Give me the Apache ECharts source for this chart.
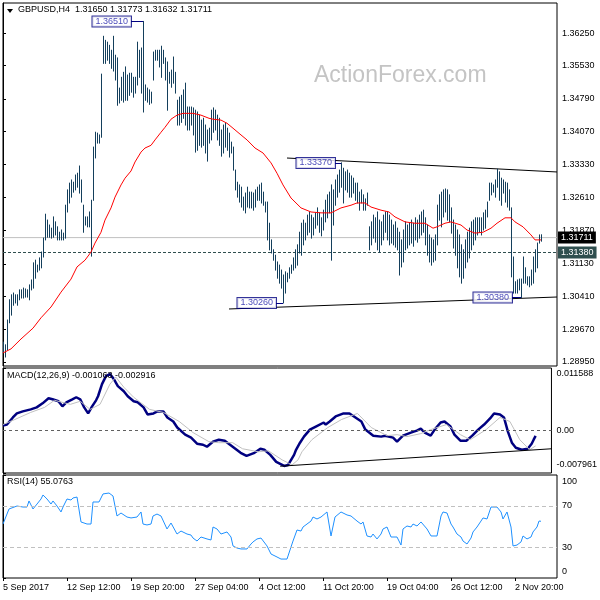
<!DOCTYPE html>
<html>
<head>
<meta charset="utf-8">
<script src="https://cdn.jsdelivr.net/npm/echarts@6/dist/echarts.min.js"></script>
<style>
html, body { margin: 0; padding: 0; background: #fff; }
#chart { width: 600px; height: 600px; }
</style>
</head>
<body>
<div id="chart"></div>
<script>
// GBPUSD H4, bar index 0 = 5 Sep 2017, 2 px per bar
const highs = [
  1.2939,1.2933,1.2988,1.3033,1.3044,1.3048,1.3044,1.3044,1.3055,1.3055,
  1.3059,1.3057,1.3055,1.3066,1.3077,1.3115,1.3121,1.3110,1.3126,1.3139,
  1.3170,1.3223,1.3210,1.3199,1.3192,1.3217,1.3206,1.3195,1.3183,1.3188,
  1.3181,1.3243,1.3277,1.3292,1.3299,1.3294,1.3310,1.3314,1.3330,1.3299,
  1.3243,1.3217,1.3217,1.3228,1.3254,1.3372,1.3405,1.3403,1.3399,1.3534,
  1.3618,1.3609,1.3605,1.3598,1.3587,1.3618,1.3576,1.3570,1.3503,1.3527,
  1.3538,1.3550,1.3532,1.3536,1.3536,1.3527,1.3527,1.3605,1.3587,1.3592,
  1.3651,1.3510,1.3503,1.3499,1.3494,1.3583,1.3587,1.3587,1.3587,1.3596,
  1.3587,1.3570,1.3561,1.3538,1.3543,1.3572,1.3538,1.3476,1.3483,1.3487,
  1.3499,1.3514,1.3461,1.3461,1.3461,1.3459,1.3454,1.3450,1.3443,1.3432,
  1.3436,1.3421,1.3410,1.3414,1.3454,1.3459,1.3454,1.3443,1.3436,1.3410,
  1.3421,1.3425,1.3414,1.3403,1.3383,1.3372,1.3321,1.3294,1.3288,1.3283,
  1.3261,1.3270,1.3283,1.3272,1.3272,1.3270,1.3277,1.3283,1.3288,1.3292,
  1.3272,1.3250,1.3250,1.3203,1.3166,1.3144,1.3132,1.3117,1.3110,1.3099,
  1.3088,1.3095,1.3092,1.3104,1.3110,1.3126,1.3144,1.3155,1.3183,1.3203,
  1.3210,1.3203,1.3221,1.3228,1.3221,1.3215,1.3226,1.3237,1.3226,1.3215,
  1.3232,1.3254,1.3266,1.3272,1.3288,1.3277,1.3299,1.3310,1.3321,1.3337,
  1.3325,1.3317,1.3321,1.3314,1.3308,1.3303,1.3292,1.3292,1.3272,1.3277,
  1.3266,1.3257,1.3270,1.3195,1.3206,1.3221,1.3215,1.3228,1.3210,1.3206,
  1.3221,1.3228,1.3228,1.3221,1.3210,1.3199,1.3206,1.3192,1.3183,1.3166,
  1.3188,1.3206,1.3199,1.3203,1.3210,1.3203,1.3215,1.3210,1.3221,1.3228,
  1.3232,1.3215,1.3199,1.3177,1.3170,1.3166,1.3177,1.3243,1.3266,1.3272,
  1.3277,1.3279,1.3277,1.3266,1.3237,1.3210,1.3199,1.3188,1.3177,1.3155,
  1.3144,1.3166,1.3183,1.3192,1.3206,1.3210,1.3215,1.3215,1.3215,1.3215,
  1.3226,1.3232,1.3250,1.3292,1.3292,1.3288,1.3299,1.3323,1.3317,1.3303,
  1.3299,1.3294,1.3292,1.3277,1.3237,1.3128,1.3073,1.3077,1.3079,1.3079,
  1.3128,1.3104,1.3084,1.3084,1.3099,1.3128,1.3144,1.3159,1.3177,1.31773
];
const lows = [
  1.2917,1.2906,1.2922,1.2982,1.2999,1.3021,1.3026,1.3021,1.3033,1.3037,
  1.3037,1.3039,1.3039,1.3033,1.3055,1.3059,1.3081,1.3095,1.3099,1.3104,
  1.3128,1.3166,1.3172,1.3172,1.3170,1.3172,1.3177,1.3166,1.3166,1.3166,
  1.3166,1.3170,1.3228,1.3248,1.3261,1.3272,1.3277,1.3283,1.3270,1.3250,
  1.3183,1.3199,1.3195,1.3195,1.3130,1.3254,1.3348,1.3381,1.3381,1.3394,
  1.3558,1.3558,1.3565,1.3558,1.3547,1.3541,1.3521,1.3465,1.3470,1.3476,
  1.3472,1.3476,1.3476,1.3487,1.3494,1.3483,1.3492,1.3510,1.3527,1.3492,
  1.3450,1.3476,1.3472,1.3467,1.3470,1.3521,1.3565,1.3565,1.3550,1.3527,
  1.3558,1.3521,1.3454,1.3514,1.3505,1.3514,1.3492,1.3421,1.3421,1.3427,
  1.3436,1.3421,1.3410,1.3410,1.3421,1.3399,1.3361,1.3365,1.3376,1.3372,
  1.3376,1.3359,1.3341,1.3381,1.3388,1.3405,1.3410,1.3388,1.3376,1.3352,
  1.3359,1.3372,1.3365,1.3350,1.3359,1.3321,1.3277,1.3261,1.3250,1.3239,
  1.3232,1.3226,1.3239,1.3237,1.3237,1.3232,1.3239,1.3254,1.3254,1.3248,
  1.3243,1.3228,1.3166,1.3144,1.3137,1.3121,1.3099,1.3081,1.3070,1.3059,
  1.3026,1.3048,1.3073,1.3081,1.3092,1.3099,1.3104,1.3110,1.3137,1.3132,
  1.3155,1.3166,1.3177,1.3183,1.3170,1.3177,1.3192,1.3199,1.3183,1.3175,
  1.3188,1.3206,1.3215,1.3226,1.3121,1.3199,1.3243,1.3261,1.3272,1.3283,
  1.3248,1.3277,1.3272,1.3261,1.3261,1.3270,1.3254,1.3248,1.3232,1.3248,
  1.3232,1.3232,1.3243,1.3144,1.3155,1.3170,1.3161,1.3144,1.3139,1.3155,
  1.3166,1.3183,1.3166,1.3155,1.3159,1.3155,1.3150,1.3144,1.3088,1.3106,
  1.3117,1.3144,1.3148,1.3155,1.3159,1.3152,1.3166,1.3161,1.3170,1.3177,
  1.3183,1.3155,1.3132,1.3117,1.3110,1.3117,1.3121,1.3155,1.3210,1.3195,
  1.3217,1.3228,1.3210,1.3206,1.3181,1.3148,1.3132,1.3104,1.3084,1.3070,
  1.3081,1.3104,1.3117,1.3126,1.3144,1.3155,1.3166,1.3177,1.3183,1.3177,
  1.3188,1.3192,1.3217,1.3254,1.3266,1.3272,1.3261,1.3283,1.3254,1.3243,
  1.3270,1.3250,1.3239,1.3232,1.3084,1.3048,1.3048,1.3048,1.3055,1.3038,
  1.3070,1.3070,1.3066,1.3062,1.3066,1.3070,1.3095,1.3104,1.3159,1.31632
];
const lastBar = [1.31650, 1.31773, 1.31632, 1.31711]; // O H L C
const levelLine = 1.31380;

// moving average [bar, value]
const maLine = [
  [0,1.2915],[4,1.2924],[9,1.2946],[15,1.2970],[19,1.2993],[24,1.3017],[29,1.3050],[34,1.3079],
  [37,1.3106],[41,1.3121],[44,1.3139],[46,1.3159],[49,1.3183],[51,1.3210],[54,1.3237],[56,1.3261],
  [59,1.3288],[61,1.3303],[64,1.3319],[66,1.3339],[69,1.3361],[71,1.3370],[74,1.3376],[76,1.3388],
  [79,1.3405],[81,1.3416],[84,1.3434],[87,1.3443],[90,1.3447],[95,1.3447],[99,1.3443],[103,1.3436],
  [105,1.3434],[109,1.3432],[112,1.3425],[115,1.3414],[119,1.3399],[122,1.3388],[126,1.3370],[130,1.3359],
  [134,1.3337],[137,1.3314],[140,1.3288],[144,1.3259],[149,1.3237],[154,1.3228],[159,1.3226],[164,1.3226],
  [169,1.3237],[174,1.3243],[177,1.3248],[181,1.3248],[184,1.3239],[189,1.3232],[193,1.3228],[196,1.3217],
  [201,1.3206],[206,1.3203],[211,1.3203],[215,1.3192],[217,1.3195],[221,1.3203],[224,1.3206],[229,1.3199],
  [232,1.3188],[236,1.3181],[240,1.3183],[244,1.3192],[247,1.3203],[251,1.3215],[254,1.3215],[256,1.3206],
  [260,1.3195],[264,1.3177],[266,1.3166],[269,1.3166]
];

const macdLine = [
  [0,0.00087],[2,0.00106],[5,0.00238],[7,0.00313],[10,0.00351],[14,0.00388],[17,0.00426],[20,0.00501],
  [23,0.00595],[25,0.00576],[28,0.00539],[30,0.00445],[32,0.00520],[35,0.00576],[37,0.00614],[39,0.00576],
  [41,0.00426],[43,0.00313],[45,0.00445],[47,0.00557],[48,0.00633],[50,0.00858],[52,0.01008],[54,0.01046],
  [56,0.00952],[58,0.00821],[61,0.00727],[63,0.00633],[66,0.00539],[68,0.00520],[71,0.00426],[73,0.00294],
  [76,0.00313],[78,0.00351],[81,0.00351],[83,0.00238],[86,0.00163],[88,0.00050],[92,-0.00082],[95,-0.00138],
  [98,-0.00251],[101,-0.00270],[103,-0.00307],[106,-0.00213],[109,-0.00176],[112,-0.00195],[116,-0.00307],[120,-0.00420],
  [123,-0.00477],[127,-0.00420],[130,-0.00345],[132,-0.00364],[135,-0.00458],[138,-0.00589],[142,-0.00665],[144,-0.00646],
  [147,-0.00458],[148,-0.00364],[150,-0.00232],[152,-0.00119],[155,0.00012],[158,0.00069],[162,0.00144],[163,0.00106],
  [165,0.00163],[168,0.00257],[172,0.00313],[175,0.00313],[178,0.00238],[181,0.00163],[183,0.00012],[187,-0.00101],
  [191,-0.00119],[193,-0.00101],[197,-0.00138],[199,-0.00213],[202,-0.00101],[206,-0.00044],[209,-0.00007],[211,0.00031],
  [213,-0.00044],[216,-0.00101],[218,0.00012],[221,0.00144],[223,0.00163],[226,0.00069],[228,-0.00082],[231,-0.00195],
  [234,-0.00195],[237,-0.00101],[240,0.00012],[243,0.00106],[246,0.00219],[248,0.00313],[251,0.00294],[253,0.00238],
  [255,-0.00025],[257,-0.00232],[259,-0.00326],[262,-0.00364],[265,-0.00345],[267,-0.00251],[268,-0.00176],[269,-0.001063]
];
const signalLine = [
  [0,0.00106],[6,0.00200],[14,0.00332],[21,0.00426],[26,0.00557],[34,0.00482],[39,0.00539],[44,0.00388],
  [49,0.00482],[54,0.00858],[57,0.00990],[61,0.00802],[66,0.00614],[74,0.00388],[81,0.00332],[89,0.00163],
  [96,-0.00044],[104,-0.00213],[109,-0.00232],[116,-0.00232],[121,-0.00345],[129,-0.00401],[134,-0.00383],[141,-0.00552],
  [146,-0.00646],[149,-0.00552],[151,-0.00401],[156,-0.00176],[164,0.00050],[171,0.00200],[179,0.00313],[186,0.00050],
  [194,-0.00101],[199,-0.00082],[204,-0.00119],[211,-0.00063],[216,0.00012],[224,0.00106],[231,-0.00082],[236,-0.00176],
  [244,0.00012],[251,0.00238],[256,0.00163],[261,-0.00176],[266,-0.00364],[269,-0.002916]
];

const rsiLine = [
  [0,52.4],[1,50.5],[3,67.0],[4,68.9],[7,69.9],[10,68.9],[12,68.9],[13,74.8],[15,67.0],[17,71.8],
  [19,76.7],[20,80.6],[22,76.7],[24,71.8],[25,74.8],[27,69.9],[29,64.1],[30,68.9],[32,76.7],[34,75.7],
  [35,77.7],[37,78.6],[39,54.4],[40,54.4],[42,52.4],[44,52.4],[45,73.8],[46,74.8],[48,73.8],[50,81.6],
  [51,83.5],[53,82.5],[55,79.6],[56,69.9],[57,60.2],[59,63.1],[60,65.0],[62,59.2],[64,58.3],[65,60.2],
  [67,59.2],[69,64.1],[70,52.4],[72,51.5],[74,52.4],[75,60.2],[77,62.1],[79,60.2],[80,59.2],[82,47.6],
  [84,53.4],[85,54.4],[87,42.7],[89,45.6],[90,46.6],[92,42.7],[94,41.7],[95,38.8],[97,35.9],[99,39.8],
  [100,38.8],[102,37.9],[104,36.9],[105,49.5],[107,47.6],[109,42.7],[110,43.7],[112,44.7],[114,39.8],[115,31.1],
  [117,29.1],[119,28.2],[120,27.2],[122,28.2],[124,33.0],[125,35.0],[127,37.9],[129,38.8],[130,36.9],[132,31.1],
  [134,23.3],[135,21.4],[137,20.4],[139,18.4],[140,16.5],[142,18.4],[144,30.1],[145,35.9],[147,46.6],[149,45.6],
  [150,49.5],[152,52.4],[154,55.3],[155,59.2],[157,57.3],[159,59.2],[160,59.2],[162,64.1],[163,66.0],[164,40.8],
  [166,59.2],[167,60.2],[169,64.1],[170,65.0],[172,61.2],[174,60.2],[175,62.1],[177,55.3],[179,52.4],[180,54.4],
  [182,40.8],[184,39.8],[185,42.7],[187,37.9],[189,42.7],[190,47.6],[192,49.5],[194,39.8],[195,40.8],[197,39.8],
  [199,32.0],[200,47.6],[202,50.5],[204,49.5],[205,52.4],[207,50.5],[209,54.4],[210,56.3],[212,47.6],[214,40.8],
  [215,39.8],[217,40.8],[219,60.2],[220,64.1],[222,63.1],[224,52.4],[225,49.5],[227,42.7],[229,39.8],[230,35.9],
  [232,33.0],[234,38.8],[235,44.7],[237,49.5],[239,55.3],[240,58.3],[242,57.3],[244,68.9],[245,68.9],[247,68.9],
  [249,64.1],[250,57.3],[252,64.1],[254,49.5],[255,31.1],[257,32.0],[259,35.0],[260,40.8],[262,37.9],[264,39.8],
  [265,44.7],[267,49.5],[268,55.3],[269,55.0763]
];

// chart objects
const pivots = [[70, 1.36510], [169, 1.33370], [140, 1.30260], [259, 1.30380]];
const upperTrend = [[142, 1.33478], [277, 1.33168]];
const lowerTrend = [[113, 1.30126], [277, 1.30392]];
const macdTrend = [[140, -0.00670], [277, -0.00345]];

// axis ticks
const dateTicks = [0, 32, 64, 96, 128, 160, 192, 224, 256];
const dateLabels = ['5 Sep 2017', '12 Sep 12:00', '19 Sep 20:00', '27 Sep 04:00', '4 Oct 12:00',
  '11 Oct 20:00', '19 Oct 04:00', '26 Oct 12:00', '2 Nov 20:00'];
const priceTicks = [1.3625, 1.3553, 1.3479, 1.3407, 1.3333, 1.3261, 1.3187, 1.3113, 1.3041, 1.2967, 1.2895];
const macdTicks = [0.011588, 0, -0.007961];
const rsiTicks = [100, 70, 30, 0];

const FONT = 'Liberation Sans';
const X_MAX = 277;
const bars = highs.map(function (h, i) { return [i, lows[i], h]; });
const pivotGap = [12, 6, 7, 9];

function renderBar(params, api) {
  const lo = api.coord([api.value(0), api.value(1)]);
  const hi = api.coord([api.value(0), api.value(2)]);
  const x = Math.round(lo[0]) + 0.5;
  return {
    type: 'line',
    shape: {x1: x, y1: lo[1] + 0.5, x2: x, y2: hi[1] - 0.5},
    style: {stroke: '#143F5C', lineWidth: 1}
  };
}

// horizontal price line with a tag on the price axis
function priceLine(value, color, dash, tagColor, z) {
  return {
    type: 'line', xAxisIndex: 0, yAxisIndex: 0, z: z, symbol: 'none', silent: true,
    data: [[0, value], [X_MAX, value]],
    lineStyle: {color: color, width: 1, type: dash},
    endLabel: {
      show: true, distance: 1, formatter: value.toFixed(5),
      backgroundColor: tagColor, color: '#fff', padding: [2, 3, 1, 3], fontSize: 9, fontFamily: FONT
    }
  };
}

const chart = echarts.init(document.getElementById('chart'));

const gridStyle = {left: 3, right: 43, show: true, borderColor: '#000', borderWidth: 1};
const option = {
  animation: false,
  textStyle: {fontFamily: FONT},
  grid: [
    Object.assign({top: 3, height: 363}, gridStyle),
    Object.assign({top: 368, height: 105}, gridStyle),
    Object.assign({top: 475, height: 103}, gridStyle)
  ],
  xAxis: [0, 1, 2].map(function (g) {
    return {
      type: 'value', gridIndex: g, min: 0, max: X_MAX,
      axisLine: {show: false},
      splitLine: {show: false},
      axisTick: {show: g === 2, customValues: dateTicks, length: 3, lineStyle: {color: '#000'}},
      axisLabel: {
        show: g === 2, customValues: dateTicks, align: 'left', margin: 5,
        fontSize: 9, color: '#000', fontFamily: FONT,
        formatter: function (v) { return dateLabels[dateTicks.indexOf(v)]; }
      }
    };
  }),
  yAxis: [
    {
      type: 'value', gridIndex: 0, position: 'right', min: 1.2886, max: 1.3692,
      axisLine: {show: true, lineStyle: {color: '#000'}},
      splitLine: {show: false},
      axisTick: {show: true, customValues: priceTicks, length: 3, lineStyle: {color: '#000'}},
      axisLabel: {
        customValues: priceTicks, margin: 5, fontSize: 9, color: '#000', fontFamily: FONT,
        formatter: function (v) { return v.toFixed(5); }
      }
    },
    {
      type: 'value', gridIndex: 1, position: 'right', min: -0.007961, max: 0.011588,
      axisLine: {show: true, lineStyle: {color: '#000'}},
      splitLine: {show: false},
      axisTick: {show: true, customValues: macdTicks, length: 3, lineStyle: {color: '#000'}},
      axisLabel: {
        customValues: macdTicks, margin: 5, fontSize: 9, color: '#000', fontFamily: FONT,
        formatter: function (v) {
          if (v === macdTicks[0]) return '{t|' + v.toFixed(6) + '}';
          if (v === macdTicks[2]) return '{b|' + v.toFixed(6) + '}';
          return '0.00';
        },
        rich: {
          t: {fontSize: 9, fontFamily: FONT, color: '#000', padding: [12, 0, 0, 0]},
          b: {fontSize: 9, fontFamily: FONT, color: '#000', padding: [0, 0, 16, 0]}
        }
      }
    },
    {
      type: 'value', gridIndex: 2, position: 'right', min: 0, max: 100,
      axisLine: {show: true, lineStyle: {color: '#000'}},
      splitLine: {show: false},
      axisTick: {show: true, customValues: rsiTicks, length: 3, lineStyle: {color: '#000'}},
      axisLabel: {
        customValues: rsiTicks, margin: 5, fontSize: 9, color: '#000', fontFamily: FONT,
        formatter: function (v) {
          if (v === 100) return '{t|100}';
          if (v === 0) return '{b|0}';
          return String(v);
        },
        rich: {
          t: {fontSize: 9, fontFamily: FONT, color: '#000', padding: [14, 0, 0, 0]},
          b: {fontSize: 9, fontFamily: FONT, color: '#000', padding: [0, 0, 12, 0]}
        }
      }
    }
  ],
  graphic: [
    {type: 'polygon', shape: {points: [[7, 9], [13, 9], [10, 13]]}, style: {fill: '#000'}},
    {type: 'text', left: 18, top: 5, style: {
      text: 'GBPUSD,H4  ' + lastBar.map(function (v) { return v.toFixed(5); }).join(' '),
      fontSize: 9, fontFamily: FONT, fill: '#000'}},
    {type: 'text', left: 314, top: 64, style: {
      text: 'ActionForex.com', fontSize: 23, fontFamily: FONT, fill: '#C4C4C4'}},
    {type: 'text', left: 7, top: 371, z: 10, style: {
      text: 'MACD(12,26,9) ' + macdLine[macdLine.length - 1][1].toFixed(6) + ' ' +
        signalLine[signalLine.length - 1][1].toFixed(6),
      fontSize: 9, fontFamily: FONT, fill: '#000'}},
    {type: 'text', left: 7, top: 477, z: 10, style: {
      text: 'RSI(14) ' + rsiLine[rsiLine.length - 1][1].toFixed(4),
      fontSize: 9, fontFamily: FONT, fill: '#000'}}
  ],
  series: [
    priceLine(lastBar[3], '#C0C0C0', 'solid', '#000', 1),
    priceLine(levelLine, '#2F4F4F', [3, 2], '#2F4F4F', 1),
    {
      type: 'line', xAxisIndex: 0, yAxisIndex: 0, data: lowerTrend, z: 2,
      symbol: 'none', lineStyle: {color: '#000', width: 1}
    },
    {
      type: 'line', xAxisIndex: 0, yAxisIndex: 0, data: upperTrend, z: 2,
      symbol: 'none', lineStyle: {color: '#000', width: 1}
    },
    {
      type: 'custom', name: 'GBPUSD', xAxisIndex: 0, yAxisIndex: 0, z: 3,
      data: bars, renderItem: renderBar, encode: {x: 0, y: [1, 2]}
    },
    {
      type: 'line', xAxisIndex: 0, yAxisIndex: 0, data: maLine, z: 4,
      symbol: 'none', lineStyle: {color: '#FF0000', width: 1}
    },
    {
      type: 'scatter', xAxisIndex: 0, yAxisIndex: 0, z: 6, symbolSize: 0,
      data: pivots.map(function (p, k) { return {value: p, label: {distance: pivotGap[k]}}; }),
      label: {
        show: true, position: 'left', color: '#1616A6', fontSize: 9, fontFamily: FONT,
        backgroundColor: '#fff', borderColor: '#000080', borderWidth: 1, padding: [1, 3, 0, 3],
        formatter: function (p) { return p.value[1].toFixed(5); }
      },
      markLine: {
        silent: true, symbol: ['none', 'none'], animation: false,
        lineStyle: {color: '#000080', width: 1, type: 'solid'}, label: {show: false},
        data: pivots.map(function (p, k) {
          return [{coord: [p[0] - pivotGap[k] / 2, p[1]]}, {coord: [p[0], p[1]]}];
        })
      }
    },
    {
      type: 'line', xAxisIndex: 1, yAxisIndex: 1, data: macdLine, z: 3,
      symbol: 'none', lineStyle: {color: '#000080', width: 2.5},
      markLine: {
        silent: true, symbol: ['none', 'none'], animation: false, label: {show: false},
        lineStyle: {color: '#606060', width: 1, type: [3, 3]},
        data: [{yAxis: 0}]
      }
    },
    {
      type: 'line', xAxisIndex: 1, yAxisIndex: 1, data: signalLine, z: 4,
      symbol: 'none', lineStyle: {color: '#C0C0C0', width: 1}
    },
    {
      type: 'line', xAxisIndex: 1, yAxisIndex: 1, data: macdTrend, z: 5,
      symbol: 'none', lineStyle: {color: '#000', width: 1}
    },
    {
      type: 'line', xAxisIndex: 2, yAxisIndex: 2, data: rsiLine, z: 3,
      symbol: 'none', lineStyle: {color: '#1E90FF', width: 1},
      markLine: {
        silent: true, symbol: ['none', 'none'], animation: false, label: {show: false},
        lineStyle: {color: '#C0C0C0', width: 1, type: [4, 3]},
        data: [{yAxis: 70}, {yAxis: 30}]
      }
    }
  ]
};

chart.setOption(option);
</script>
</body>
</html>
